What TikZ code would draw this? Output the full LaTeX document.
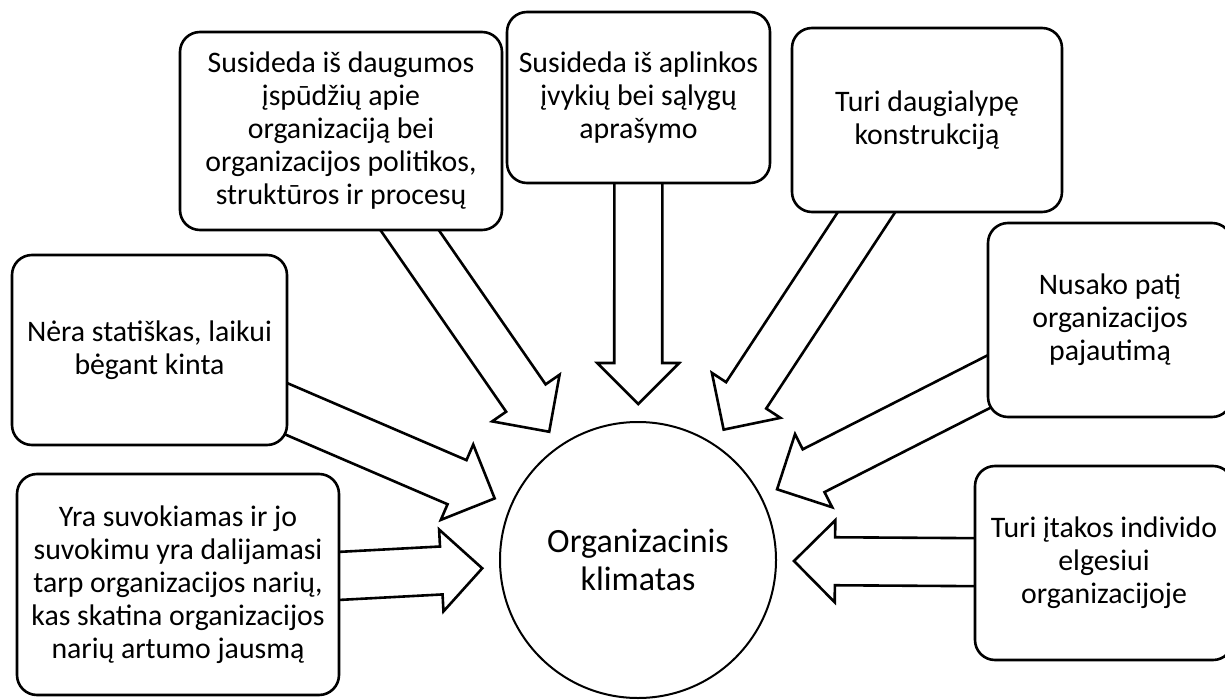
\documentclass[tikz,border=0pt]{standalone}
\usepackage{fontspec}
\setmainfont{Carlito}
\usetikzlibrary{calc,backgrounds}

\tikzset{
    box/.style={draw, line width=1.3pt, rounded corners=10pt, fill=white, align=center,
        font=\fontsize{14.9}{16.5}\selectfont, inner sep=0pt},
    klimatas/.style={draw, circle, line width=1pt, fill=white, align=center,
        minimum size=138pt, inner sep=0pt, font=\fontsize{17}{19}\selectfont},
    blockarr/.style={draw, line width=1.3pt, fill=white, line join=miter}
}

% block arrow from a box towards the circle
\newcommand{\blockarrow}[2]{
    \coordinate (tip) at ($(#2.center)!78pt!(#1.center)$);
    \coordinate (hb) at ($(#2.center)!98.5pt!(#1.center)$);
    \draw[blockarr] ($(#1.center)!12pt!90:(#2.center)$) -- ($(hb)!12pt!-90:(#1.center)$)
        -- ($(hb)!20.5pt!-90:(#1.center)$) -- (tip) -- ($(hb)!20.5pt!90:(#1.center)$)
        -- ($(hb)!12pt!90:(#1.center)$) -- ($(#1.center)!12pt!-90:(#2.center)$) -- cycle;
}

\begin{document}
\begin{tikzpicture}[x=0.5pt, y=-0.5pt]
    \useasboundingbox (0,0) rectangle (1225,700);

    \node[klimatas] (klim) at (638,560) {Organizacinis\\klimatas};

    \node[box, minimum width=161pt, minimum height=99pt] (dauguma) at (341,131)
        {Susideda iš daugumos\\įspūdžių apie\\organizaciją bei\\organizacijos politikos,\\struktūros ir procesų};
    \node[box, minimum width=131.5pt, minimum height=85.5pt] (aplinka) at (638.5,97.5)
        {Susideda iš aplinkos\\įvykių bei sąlygų\\aprašymo};
    \node[box, minimum width=135pt, minimum height=92pt] (konstr) at (927,120)
        {Turi daugialypę\\konstrukciją};
    \node[box, minimum width=122pt, minimum height=97pt] (pajaut) at (1110,320)
        {Nusako patį\\organizacijos\\pajautimą};
    \node[box, minimum width=129pt, minimum height=97pt] (itaka) at (1104,563)
        {Turi įtakos individo\\elgesiui\\organizacijoje};
    \node[box, minimum width=137.5pt, minimum height=95pt] (kinta) at (149.5,350)
        {Nėra statiškas, laikui\\bėgant kinta};
    \node[box, minimum width=161pt, minimum height=110.5pt] (suvok) at (178,584.5)
        {Yra suvokiamas ir jo\\suvokimu yra dalijamasi\\tarp organizacijos narių,\\kas skatina organizacijos\\narių artumo jausmą};

    \begin{pgfonlayer}{background}
        \foreach \b in {dauguma, aplinka, konstr, pajaut, itaka, kinta, suvok}
            \blockarrow{\b}{klim};
    \end{pgfonlayer}
\end{tikzpicture}
\end{document}
